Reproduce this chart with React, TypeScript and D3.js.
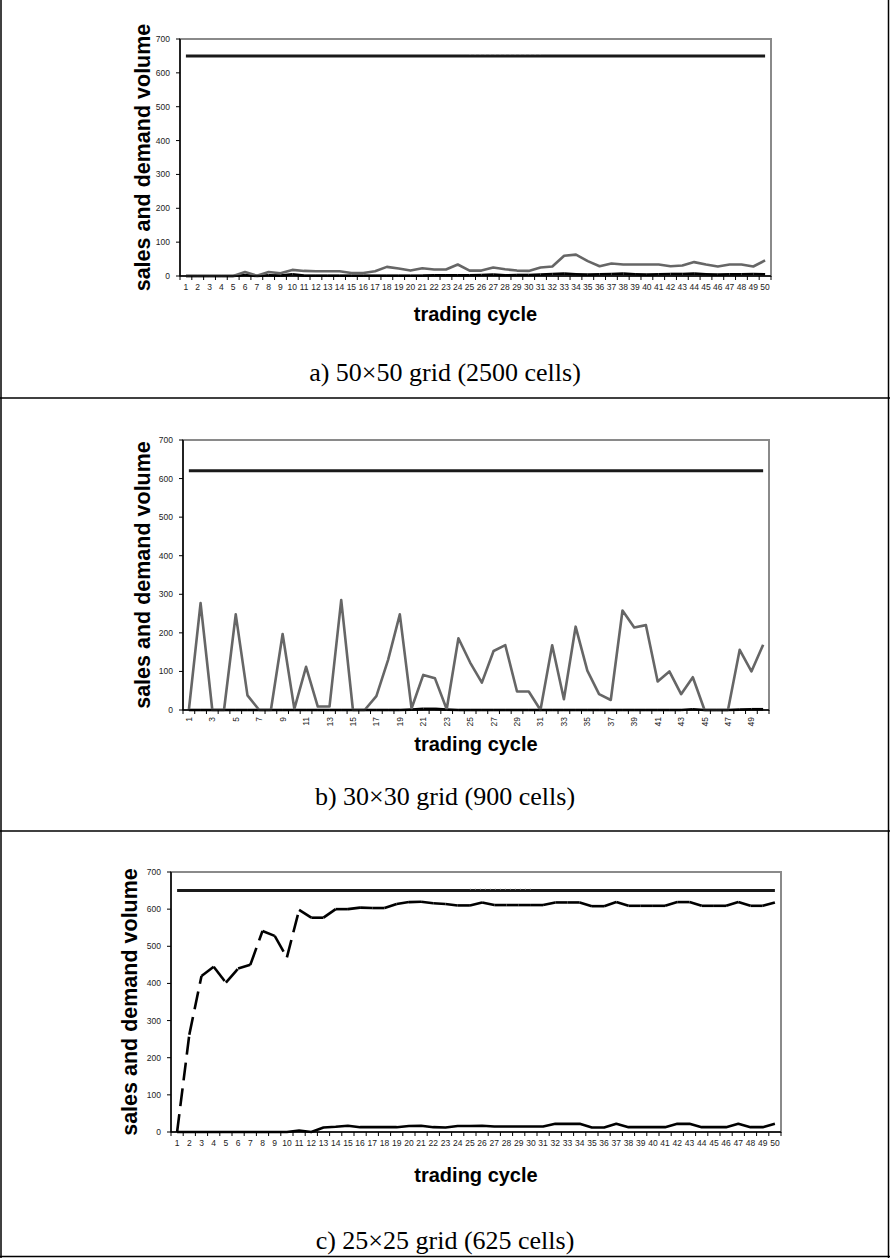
import React from 'react';
import * as d3 from 'd3';

// trading cycles on the x axis
const cycles = d3.range(1, 51);
const yTicks = [0, 100, 200, 300, 400, 500, 600, 700];

// a) 50x50 grid
const demandA = 650;
const grayA = [
  0, 0, 0, 0, 0, 12, 1, 12, 8, 18,
  15, 14, 14, 14, 9, 9, 14, 27, 22, 16,
  23, 19, 19, 34, 16, 16, 25, 20, 16, 15,
  25, 28, 60, 63, 44, 29, 37, 34, 34, 34,
  34, 29, 31, 41, 34, 28, 34, 34, 28, 46,
];
const blackA = [
  0, 0, 0, 0, 0, 3, 0, 2, 1, 5,
  1, 1, 1, 1, 1, 1, 1, 1, 1, 1,
  1, 2, 2, 2, 2, 3, 4, 2, 3, 3,
  4, 6, 7, 5, 4, 5, 6, 7, 5, 4,
  5, 6, 6, 7, 5, 4, 5, 5, 6, 5,
];

// b) 30x30 grid
const demandB = 620;
const grayB = [
  0, 277, 0, 0, 248, 38, 0, 0, 197, 3,
  112, 9, 9, 285, 0, 0, 36, 130, 248, 4,
  91, 82, 2, 186, 123, 71, 153, 168, 48, 48,
  0, 168, 28, 216, 102, 41, 26, 258, 214, 220,
  74, 100, 41, 85, 0, 0, 0, 156, 100, 169,
];
const blackB = [
  0, 0, 0, 0, 0, 0, 0, 0, 0, 0,
  0, 0, 0, 0, 0, 0, 0, 0, 0, 1,
  3, 3, 1, 0, 0, 0, 0, 0, 0, 0,
  0, 0, 0, 0, 0, 0, 0, 0, 0, 0,
  0, 0, 0, 2, 0, 0, 0, 1, 2, 2,
];

// c) 25x25 grid
const demandC = 650;
const dashedC = [
  0, 262, 420, 445, 402, 440, 450, 541, 528, 470,
  598, 577, 577, 600, 600, 604, 603, 603, 614, 619,
  620, 616, 614, 610, 610, 618, 611, 611, 611, 611,
  611, 618, 618, 618, 608, 608, 619, 609, 609, 609,
  609, 619, 619, 609, 609, 609, 619, 609, 609, 618,
];
const lowC = [
  0, 0, 0, 0, 0, 0, 0, 0, 0, 0,
  4, 0, 12, 14, 17, 13, 13, 13, 13, 16,
  17, 13, 12, 16, 16, 17, 15, 15, 15, 15,
  15, 22, 22, 22, 12, 12, 22, 13, 13, 13,
  13, 22, 22, 13, 13, 13, 22, 13, 13, 22,
];

const SANS = 'Liberation Sans, Arial, sans-serif';
const SERIF = 'Liberation Serif, Times New Roman, serif';

type Box = { left: number; right: number; top: number; bottom: number };

const Panel = ({ box, demand, gray, black, solid, dots, rotated, yTitleX, xTitleY, caption, captionY }: any) => {
  const b: Box = box;
  const x = d3.scaleBand<number>().domain(cycles).range([b.left, b.right]);
  const y = d3.scaleLinear().domain([0, 700]).range([b.bottom, b.top]);
  const cx = (c: number) => (x(c) as number) + x.bandwidth() / 2;
  const line = d3.line<[number, number]>().x(d => cx(d[0])).y(d => y(d[1]));
  const pts = (vals: number[]) => vals.map((v, i) => [cycles[i], v] as [number, number]);

  // excel restarts the dash pattern at each point
  const dashSegs = d3.pairs(pts(black));
  const edges = cycles.map(c => x(c) as number).concat([b.right]);

  return (
    <g>
      {/* plot area border */}
      <rect x={b.left} y={b.top} width={b.right - b.left} height={b.bottom - b.top}
        fill="none" stroke="#8a8a8a" strokeWidth={2} />
      {/* demand */}
      <path d={line(cycles.map(c => [c, demand] as [number, number])) || ''}
        fill="none" stroke="#1a1a1a" strokeWidth={3} />
      {dots && (
        <path d={line(dots.map((c: number) => [c, demand] as [number, number])) || ''}
          transform="translate(0,-1.5)" fill="none" stroke="#aaa" strokeWidth={1} strokeDasharray="1 4" />
      )}
      {solid && (
        <path d={line(pts(solid)) || ''} fill="none" stroke="#000" strokeWidth={2.6} strokeLinejoin="round" />
      )}
      {dashSegs.map((s, i) => (
        <path key={i} d={line(s) || ''} fill="none" stroke="#000" strokeWidth={2.6} strokeDasharray="18 8" />
      ))}
      {gray && (
        <path d={line(pts(gray)) || ''} fill="none" stroke="#666" strokeWidth={2.6} strokeLinejoin="round" />
      )}
      {/* axes */}
      <line x1={b.left} x2={b.left} y1={b.top} y2={b.bottom} stroke="#000" strokeWidth={1.5} />
      <line x1={b.left} x2={b.right} y1={b.bottom} y2={b.bottom} stroke="#000" strokeWidth={1.5} />
      {yTicks.map(t => (
        <g key={t}>
          <line x1={b.left - 4} x2={b.left} y1={y(t)} y2={y(t)} stroke="#000" strokeWidth={1} />
          <text x={b.left - 10} y={y(t)} textAnchor="end" dominantBaseline="central"
            fontFamily={SANS} fontSize={8.5} fill="#222">{t}</text>
        </g>
      ))}
      {edges.map((e, i) => (
        <line key={i} x1={e} x2={e} y1={b.bottom} y2={b.bottom + 4} stroke="#000" strokeWidth={1} />
      ))}
      {cycles.map(c => rotated ? (
        c % 2 === 1 ? (
          <text key={c} transform={`translate(${cx(c)},${b.bottom + 7}) rotate(-90)`} textAnchor="end"
            dominantBaseline="central" fontFamily={SANS} fontSize={8.5} fill="#222">{c}</text>
        ) : null
      ) : (
        <text key={c} x={cx(c)} y={b.bottom + 14} textAnchor="middle"
          fontFamily={SANS} fontSize={8.5} fill="#222">{c}</text>
      ))}
      <text transform={`translate(${yTitleX},${(b.top + b.bottom) / 2}) rotate(-90)`} textAnchor="middle"
        dominantBaseline="central" fontFamily={SANS} fontWeight="bold" fontSize={21.5}>sales and demand volume</text>
      <text x={(b.left + b.right) / 2} y={xTitleY} textAnchor="middle" fontFamily={SANS}
        fontWeight="bold" fontSize={20}>trading cycle</text>
      <text x={445} y={captionY} textAnchor="middle" fontFamily={SERIF} fontSize={26}>{caption}</text>
    </g>
  );
};

export default function App() {
  return (
    <svg width={890} height={1258} style={{ position: 'absolute', left: 0, top: 0, background: '#fff' }}>
      <rect x={0} y={0} width={890} height={1258} fill="#fff" />
      <Panel box={{ left: 180, right: 771, top: 39, bottom: 276 }} demand={demandA} gray={grayA} black={blackA}
        dots={[25, 26, 27, 28, 29, 30, 31]} yTitleX={143} xTitleY={321} caption="a) 50×50 grid (2500 cells)" captionY={381} />
      <Panel box={{ left: 183, right: 769, top: 440, bottom: 710 }} demand={demandB} gray={grayB} black={blackB}
        rotated yTitleX={143} xTitleY={751} caption="b) 30×30 grid (900 cells)" captionY={805} />
      <Panel box={{ left: 171, right: 781, top: 872, bottom: 1132 }} demand={demandC} black={dashedC} solid={lowC}
        dots={[25, 26, 27, 28, 29, 30]} yTitleX={130} xTitleY={1182} caption="c) 25×25 grid (625 cells)" captionY={1249} />
      {/* table frame */}
      <line x1={1} x2={1} y1={0} y2={1258} stroke="#000" strokeWidth={1.5} />
      <line x1={888.5} x2={888.5} y1={0} y2={1258} stroke="#000" strokeWidth={1.5} />
      <line x1={0} x2={890} y1={398} y2={398} stroke="#000" strokeWidth={1.5} />
      <line x1={0} x2={890} y1={831} y2={831} stroke="#000" strokeWidth={1.5} />
      <line x1={0} x2={890} y1={1256.5} y2={1256.5} stroke="#000" strokeWidth={1.5} />
    </svg>
  );
}
